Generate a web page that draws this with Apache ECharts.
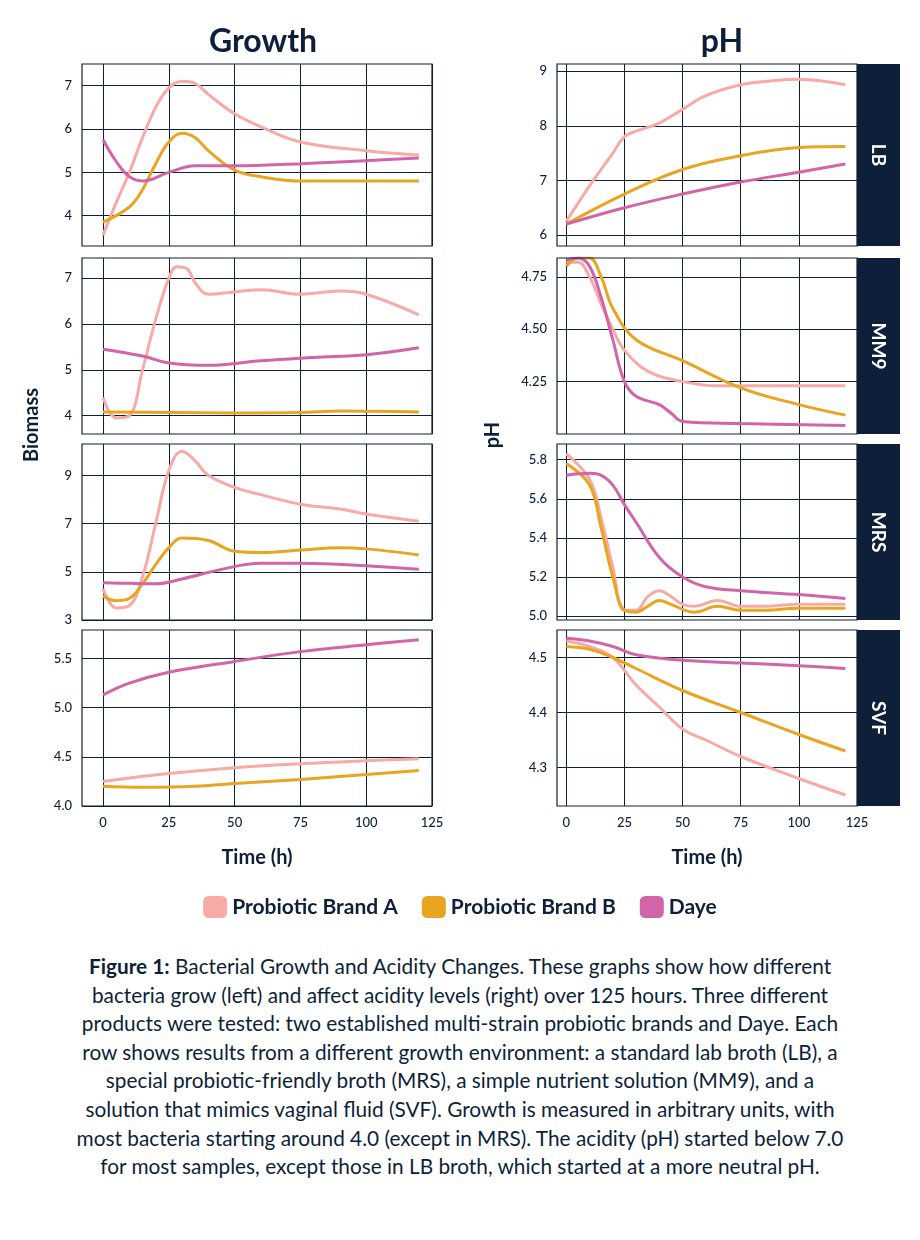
<!DOCTYPE html>
<html><head><meta charset="utf-8">
<script src="https://cdn.jsdelivr.net/npm/echarts@6/dist/echarts.min.js"></script>
<style>body{margin:0;background:#fff}#c{width:920px;height:940px}
#cap{width:770px;margin:0 auto;text-align:center;font-family:Lato,'Noto Sans',sans-serif;font-size:20.8px;line-height:28.6px;color:#0e1f3a;padding-top:12px}</style>
</head><body><div id="c"></div>
<div id="cap"><b>Figure 1:</b> Bacterial Growth and Acidity Changes. These graphs show how different bacteria grow (left) and affect acidity levels (right) over 125 hours. Three different products were tested: two established multi-strain probiotic brands and Daye. Each row shows results from a different growth environ­ment: a standard lab broth (LB), a special probiotic-friendly broth (MRS), a simple nutrient solution (MM9), and a solution that mimics vaginal fluid (SVF). Growth is measured in arbitrary units, with most bacteria starting around 4.0 (except in MRS). The acidity (pH) started below 7.0 for most samples, except those in LB broth, which started at a more neutral pH.</div>
<script>
const seriesNames = ['Probiotic Brand A','Probiotic Brand B','Daye'];
const media = ['LB','MM9','MRS','SVF'];
const xTicks = [0,25,50,75,100,125];
// Growth data [time, value]
const growthA_LB = [[0,3.55],[5,4.3],[10,5.0],[15,5.8],[20,6.5],[25,6.95],[30,7.1],[35,7.05],[40,6.8],[50,6.35],[60,6.05],[75,5.7],[100,5.5],[120,5.4]];
const growthB_LB = [[0,3.85],[10,4.2],[15,4.6],[20,5.2],[25,5.7],[30,5.9],[35,5.8],[40,5.5],[50,5.05],[60,4.9],[75,4.8],[100,4.8],[120,4.8]];
const growthD_LB = [[0,5.75],[5,5.25],[10,4.9],[15,4.8],[25,5.0],[35,5.15],[50,5.15],[75,5.2],[100,5.27],[120,5.33]];
const growthA_MM9 = [[0,4.4],[5,3.95],[10,4.0],[15,5.0],[20,6.1],[25,7.0],[28,7.25],[32,7.2],[35,6.9],[40,6.65],[50,6.7],[60,6.75],[75,6.65],[90,6.72],[100,6.65],[120,6.2]];
const growthB_MM9 = [[0,4.08],[25,4.07],[50,4.06],[75,4.07],[90,4.1],[120,4.08]];
const growthD_MM9 = [[0,5.45],[15,5.3],[25,5.15],[40,5.1],[60,5.2],[80,5.27],[100,5.33],[120,5.48]];
const growthA_MRS = [[0,4.3],[5,3.5],[10,3.6],[15,4.8],[20,7.0],[25,9.2],[30,10.0],[35,9.6],[40,9.0],[50,8.5],[60,8.2],[75,7.8],[90,7.6],[100,7.4],[120,7.1]];
const growthB_MRS = [[0,4.0],[5,3.8],[10,3.9],[15,4.5],[20,5.3],[25,6.0],[30,6.4],[40,6.3],[50,5.85],[60,5.8],[75,5.9],[90,6.0],[100,5.95],[120,5.7]];
const growthD_MRS = [[0,4.55],[10,4.52],[20,4.5],[30,4.7],[45,5.1],[60,5.35],[75,5.35],[100,5.25],[120,5.1]];
const growthA_SVF = [[0,4.25],[25,4.33],[50,4.39],[75,4.43],[100,4.46],[120,4.48]];
const growthB_SVF = [[0,4.2],[15,4.19],[35,4.2],[50,4.23],[75,4.27],[100,4.32],[120,4.36]];
const growthD_SVF = [[0,5.13],[10,5.25],[25,5.36],[50,5.47],[75,5.57],[100,5.64],[120,5.69]];
// pH data
const phA_LB = [[0,6.25],[10,6.9],[20,7.5],[25,7.8],[30,7.9],[40,8.05],[50,8.3],[60,8.55],[75,8.75],[90,8.83],[100,8.85],[110,8.82],[120,8.75]];
const phB_LB = [[0,6.2],[25,6.75],[50,7.2],[75,7.45],[100,7.6],[120,7.62]];
const phD_LB = [[0,6.2],[25,6.5],[50,6.75],[75,6.97],[100,7.15],[120,7.3]];
const phA_MM9 = [[0,4.82],[5,4.82],[10,4.75],[15,4.62],[20,4.5],[25,4.4],[35,4.3],[50,4.25],[65,4.23],[120,4.23]];
const phB_MM9 = [[0,4.8],[5,4.84],[10,4.84],[15,4.75],[20,4.6],[30,4.45],[50,4.35],[75,4.22],[100,4.14],[120,4.09]];
const phD_MM9 = [[0,4.83],[5,4.84],[10,4.8],[15,4.65],[20,4.45],[25,4.25],[30,4.18],[40,4.14],[45,4.1],[50,4.06],[75,4.05],[120,4.04]];
const phA_MRS = [[0,5.83],[10,5.7],[15,5.5],[20,5.25],[25,5.03],[30,5.03],[35,5.1],[40,5.13],[45,5.1],[50,5.06],[55,5.05],[65,5.08],[75,5.05],[85,5.05],[100,5.06],[120,5.06]];
const phB_MRS = [[0,5.78],[10,5.67],[15,5.45],[20,5.2],[25,5.03],[30,5.02],[35,5.05],[40,5.08],[45,5.06],[55,5.02],[65,5.05],[75,5.03],[85,5.03],[100,5.04],[120,5.04]];
const phD_MRS = [[0,5.72],[10,5.73],[15,5.72],[20,5.67],[25,5.57],[30,5.48],[40,5.3],[50,5.2],[60,5.15],[75,5.13],[100,5.11],[120,5.09]];
const phA_SVF = [[0,4.53],[10,4.52],[20,4.5],[30,4.45],[40,4.41],[50,4.37],[60,4.35],[75,4.32],[100,4.28],[120,4.25]];
const phB_SVF = [[0,4.52],[10,4.515],[20,4.5],[30,4.48],[50,4.44],[75,4.4],[100,4.36],[120,4.33]];
const phD_SVF = [[0,4.535],[10,4.53],[20,4.52],[30,4.505],[50,4.495],[75,4.49],[100,4.485],[120,4.48]];
const growthTicks = [[4,5,6,7],[4,5,6,7],[3,5,7,9],[4.0,4.5,5.0,5.5]];
const phTicks = [[6,7,8,9],[4.25,4.50,4.75],[5.0,5.2,5.4,5.6,5.8],[4.3,4.4,4.5]];
const growthData = [[growthA_LB,growthB_LB,growthD_LB],[growthA_MM9,growthB_MM9,growthD_MM9],[growthA_MRS,growthB_MRS,growthD_MRS],[growthA_SVF,growthB_SVF,growthD_SVF]];
const phData = [[phA_LB,phB_LB,phD_LB],[phA_MM9,phB_MM9,phD_MM9],[phA_MRS,phB_MRS,phD_MRS],[phA_SVF,phB_SVF,phD_SVF]];

const colors = ['#f7aaa6','#e9a521','#d264a8'];
const navy = '#0e1f3a';
const font = 'Lato, "Noto Sans", sans-serif';
const rowTop = [64,258,444,630], rowH = 182;
const gRange = [[3.3,7.5],[3.6,7.44],[3,10.3],[4.0,5.79]];
const pRange = [[5.8,9.13],[4.0,4.84],[4.98,5.88],[4.23,4.55]];
const fmtG = [v=>v, v=>v, v=>v, v=>v.toFixed(1)];
const fmtP = [v=>v, v=>v.toFixed(2), v=>v.toFixed(1), v=>v.toFixed(1)];
const grids=[],xAxes=[],yAxes=[],series=[],graphic=[];
function add(side,r){
  const i=grids.length;
  const left = side===0?82:557, width = side===0?350:300;
  grids.push({left,top:rowTop[r],width,height:rowH-(r===0?0:6)});
  const last = r===3;
  xAxes.push({gridIndex:i,type:'value',min:side===0?-8:-4,max:125,
    axisTick:{show:false,customValues:xTicks},axisLine:{show:false},
    splitLine:{show:true,lineStyle:{color:navy,width:1}},
    axisLabel:{show:last,customValues:xTicks,color:navy,fontSize:13,fontWeight:500,fontFamily:font,margin:10},
    name:last?'Time (h)':'',nameLocation:'middle',nameGap:42,nameTextStyle:{fontSize:20,fontWeight:'bold',color:navy,fontFamily:font}});
  const rng = side===0?gRange[r]:pRange[r], ticks = side===0?growthTicks[r]:phTicks[r], fm = side===0?fmtG[r]:fmtP[r];
  yAxes.push({gridIndex:i,type:'value',min:rng[0],max:rng[1],
    axisTick:{show:false,customValues:ticks},axisLine:{show:false},
    splitLine:{show:true,lineStyle:{color:navy,width:1}},
    axisLabel:{customValues:ticks,color:navy,fontSize:13,fontWeight:500,fontFamily:font,formatter:fm,margin:10}});
  graphic.push({type:'rect',shape:{x:left,y:rowTop[r],width,height:rowH-(r===0?0:6)},style:{fill:'none',stroke:navy,lineWidth:1.2},z:10});
  const d = side===0?growthData[r]:phData[r];
  d.forEach((arr,k)=>series.push({type:'line',name:seriesNames[k],xAxisIndex:i,yAxisIndex:i,data:arr,smooth:0.4,showSymbol:false,lineStyle:{color:colors[k],width:3},itemStyle:{color:colors[k]}}));
  if(side===1){
    const h=rowH-(r===0?0:6);
    graphic.push({type:'rect',shape:{x:857,y:rowTop[r],width:43,height:h},style:{fill:navy},z:10});
    graphic.push({type:'text',x:878,y:rowTop[r]+h/2,rotation:-Math.PI/2,style:{text:media[r],fill:'#fff',font:'bold 19px '+font,textAlign:'center',textVerticalAlign:'middle'},z:11});
  }
}
for(let r=0;r<4;r++){add(0,r);add(1,r);}
graphic.push({type:'text',x:263,y:42,style:{text:'Growth',fill:navy,font:'bold 32px '+font,textAlign:'center',textVerticalAlign:'middle'}});
graphic.push({type:'text',x:722,y:42,style:{text:'pH',fill:navy,font:'bold 32px '+font,textAlign:'center',textVerticalAlign:'middle'}});
graphic.push({type:'text',x:32,y:425,rotation:Math.PI/2,style:{text:'Biomass',fill:navy,font:'bold 20px '+font,textAlign:'center',textVerticalAlign:'middle'}});
graphic.push({type:'text',x:493,y:435,rotation:Math.PI/2,style:{text:'pH',fill:navy,font:'bold 20px '+font,textAlign:'center',textVerticalAlign:'middle'}});
const chart = echarts.init(document.getElementById('c'));
chart.setOption({animation:false,grid:grids,xAxis:xAxes,yAxis:yAxes,series,graphic,
  legend:{top:891,left:'center',itemWidth:24,itemHeight:22,itemGap:24,icon:'roundRect',data:seriesNames,
    textStyle:{fontSize:21,fontWeight:'bold',color:navy,fontFamily:font}}});
</script></body></html>
